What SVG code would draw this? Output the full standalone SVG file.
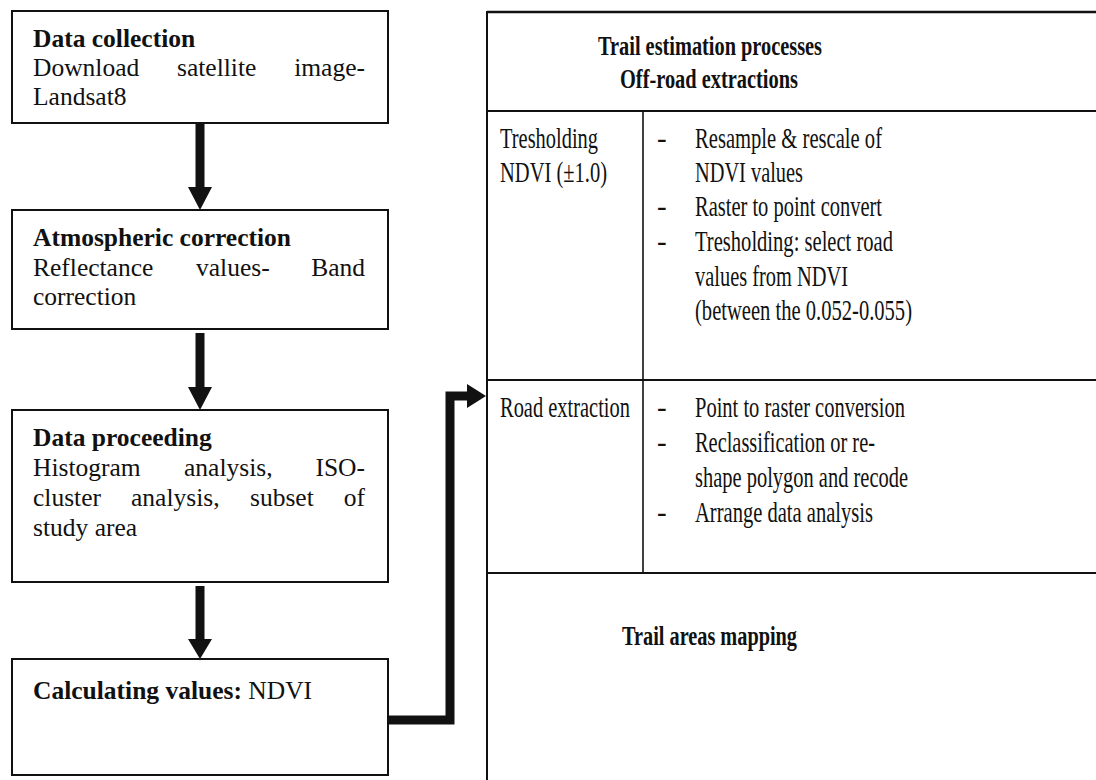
<svg xmlns="http://www.w3.org/2000/svg" width="1096" height="780" viewBox="0 0 1096 780">
<style>
text{font-family:'Liberation Serif','Tinos','Times New Roman','DejaVu Serif',serif;fill:#111}
.t{font-size:25.5px}
.b{font-weight:bold}
.r{font-size:29px}
.h{font-size:28px;font-weight:bold}
.box{fill:#fff;stroke:#111;stroke-width:2}
.ln{stroke:#111;fill:none}
.conn{stroke:#111;stroke-width:9;fill:none}
.head{fill:#111}
</style>
<rect width="1096" height="780" fill="#fff"/>

<g id="node-data-collection" font-family="Liberation Serif, serif">
<rect class="box" x="12" y="11" width="376" height="112"/>
<text class="t b" x="33" y="47">Data collection</text>
<text class="t" x="33" y="76">Download</text>
<text class="t" x="177" y="76">satellite</text>
<text class="t" x="365" y="76" text-anchor="end">image-</text>
<text class="t" x="33" y="105">Landsat8</text>
</g>

<g id="node-atmospheric">
<rect class="box" x="12" y="210" width="376" height="119"/>
<text class="t b" x="33" y="246">Atmospheric correction</text>
<text class="t" x="33" y="276">Reflectance</text>
<text class="t" x="196" y="276">values-</text>
<text class="t" x="365" y="276" text-anchor="end">Band</text>
<text class="t" x="33" y="305">correction</text>
</g>

<g id="node-data-proceeding">
<rect class="box" x="12" y="410" width="376" height="172"/>
<text class="t b" x="33" y="446">Data proceeding</text>
<text class="t" x="33" y="476">Histogram</text>
<text class="t" x="184" y="476">analysis,</text>
<text class="t" x="365" y="476" text-anchor="end">ISO-</text>
<text class="t" x="33" y="506">cluster</text>
<text class="t" x="131" y="506">analysis,</text>
<text class="t" x="250" y="506">subset</text>
<text class="t" x="365" y="506" text-anchor="end">of</text>
<text class="t" x="33" y="536">study area</text>
</g>

<g id="node-calculating">
<rect class="box" x="12" y="659" width="376" height="116"/>
<text class="t" x="33" y="699"><tspan class="b">Calculating values:</tspan> NDVI</text>
</g>

<g id="node-trail-table">
<line class="ln" x1="487" y1="12" x2="1096" y2="12" stroke-width="2.5"/>
<line class="ln" x1="487" y1="11" x2="487" y2="780" stroke-width="2"/>
<line class="ln" x1="487" y1="111" x2="1096" y2="111" stroke-width="2"/>
<line class="ln" x1="643" y1="111" x2="643" y2="573" stroke-width="1.6"/>
<line class="ln" x1="487" y1="380" x2="1096" y2="380" stroke-width="2"/>
<line class="ln" x1="487" y1="573" x2="1096" y2="573" stroke-width="2"/>

<text class="h" x="598" y="55" textLength="224" lengthAdjust="spacingAndGlyphs">Trail estimation processes</text>
<text class="h" x="620" y="88" textLength="178" lengthAdjust="spacingAndGlyphs">Off-road extractions</text>

<text class="r" x="500" y="148" textLength="98" lengthAdjust="spacingAndGlyphs">Tresholding</text>
<text class="r" x="500" y="182" textLength="107" lengthAdjust="spacingAndGlyphs">NDVI (±1.0)</text>

<text class="r" x="657" y="148">-</text>
<text class="r" x="695" y="148" textLength="187" lengthAdjust="spacingAndGlyphs">Resample &amp; rescale of</text>
<text class="r" x="695" y="182" textLength="108" lengthAdjust="spacingAndGlyphs">NDVI values</text>
<text class="r" x="657" y="216">-</text>
<text class="r" x="695" y="216" textLength="187" lengthAdjust="spacingAndGlyphs">Raster to point convert</text>
<text class="r" x="657" y="251">-</text>
<text class="r" x="695" y="251" textLength="198" lengthAdjust="spacingAndGlyphs">Tresholding: select road</text>
<text class="r" x="695" y="286" textLength="153" lengthAdjust="spacingAndGlyphs">values from NDVI</text>
<text class="r" x="695" y="320" textLength="217" lengthAdjust="spacingAndGlyphs">(between the 0.052-0.055)</text>

<text class="r" x="500" y="417" textLength="130" lengthAdjust="spacingAndGlyphs">Road extraction</text>
<text class="r" x="657" y="417">-</text>
<text class="r" x="695" y="417" textLength="210" lengthAdjust="spacingAndGlyphs">Point to raster conversion</text>
<text class="r" x="657" y="452">-</text>
<text class="r" x="695" y="452" textLength="180" lengthAdjust="spacingAndGlyphs">Reclassification or re-</text>
<text class="r" x="695" y="487" textLength="213" lengthAdjust="spacingAndGlyphs">shape polygon and recode</text>
<text class="r" x="657" y="522">-</text>
<text class="r" x="695" y="522" textLength="178" lengthAdjust="spacingAndGlyphs">Arrange data analysis</text>

<text class="h" x="622" y="645" textLength="175" lengthAdjust="spacingAndGlyphs">Trail areas mapping</text>
</g>

<g id="connectors">
<line class="conn" x1="200" y1="123" x2="200" y2="188"/>
<polygon class="head" points="188,187 212,187 200,210"/>
<line class="conn" x1="200" y1="333" x2="200" y2="388"/>
<polygon class="head" points="188,387 212,387 200,410"/>
<line class="conn" x1="200" y1="586" x2="200" y2="640"/>
<polygon class="head" points="188,639 212,639 200,659"/>
<polyline class="conn" stroke-width="8" stroke-linejoin="miter" points="388,720 450,720 450,396 468,396"/>
<polygon class="head" points="467,384 486,396 467,408"/>
</g>
</svg>
